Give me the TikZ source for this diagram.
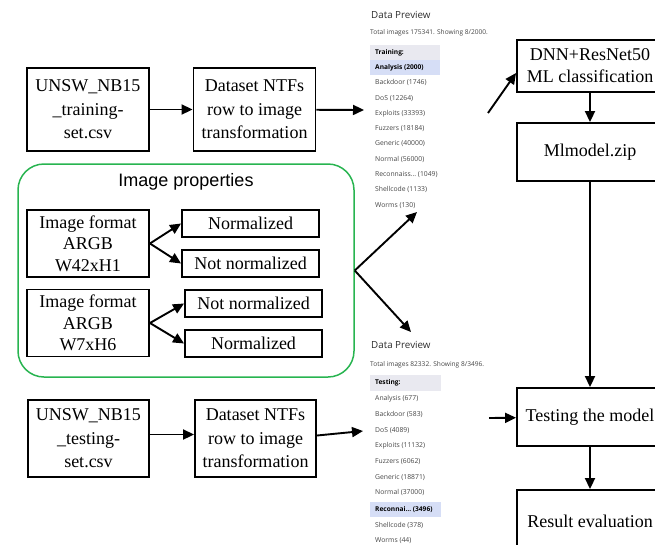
\documentclass[tikz,border=0pt]{standalone}
\usepackage{fontspec}
\setmainfont{Liberation Serif}
\newfontfamily\labelfont{Liberation Sans}
\newfontfamily\uifont{Open Sans}
\usetikzlibrary{arrows.meta}
\definecolor{propgreen}{RGB}{40,180,80}
\definecolor{uitext}{RGB}{70,70,70}
\definecolor{uititle}{RGB}{45,45,45}
\definecolor{uihead}{RGB}{233,233,240}
\definecolor{uisel}{RGB}{214,222,246}

\tikzset{
    box/.style={draw, line width=1.9pt, align=center, inner sep=0pt,
        font=\fontsize{18}{23.5}\selectfont},
    fmtbox/.style={box, minimum width=122pt, minimum height=67pt,
        font=\fontsize{18}{21.5}\selectfont},
    normbox/.style={box, minimum width=137pt, minimum height=27pt},
    stagebox/.style={box, minimum width=146pt},
    arr/.style={line width=1.9pt, -{Triangle[length=11pt,width=10pt]}},
    uititle/.style={anchor=west, inner sep=0pt, text=uititle, font=\uifont\fontsize{9.8}{10}\selectfont},
    uiinfo/.style={anchor=west, inner sep=0pt, text=uitext, font=\uifont\fontsize{6.6}{7}\selectfont},
    uiitem/.style={anchor=west, inner sep=0pt, text=uitext, font=\uifont\fontsize{6.8}{7}\selectfont},
    uibold/.style={uiitem, text=black, font=\uifont\bfseries\fontsize{6.6}{7}\selectfont},
}

\begin{document}
\begin{tikzpicture}[x=1pt, y=-1pt]
    \useasboundingbox (0,0) rectangle (655,544);
    \clip (0,0) rectangle (655,544);

    % Training and testing csv files turned into images.
    \node[box, minimum width=122pt, minimum height=83pt] (trcsv) at (88,109.5)
        {UNSW\_NB15\\\_training-\\set.csv};
    \node[box, minimum width=122pt, minimum height=83pt] (trntf) at (254.5,109.5)
        {Dataset NTFs\\row to image\\transformation};
    \node[box, minimum width=121pt, minimum height=77pt] (tecsv) at (88.5,438.5)
        {UNSW\_NB15\\\_testing-\\set.csv};
    \node[box, minimum width=121pt, minimum height=77pt] (tentf) at (255.5,438.5)
        {Dataset NTFs\\row to image\\transformation};
    \coordinate (trtip) at (364,110);
    \coordinate (tetip) at (363,431);
    \draw[arr] (trcsv) -- (trntf);
    \draw[arr] (trntf) -- (trtip);
    \draw[arr] ([yshift=4pt]tecsv.east) -- ([yshift=4pt]tentf.west);
    \draw[arr] ([yshift=3pt]tentf.east) -- (tetip);

    % Image properties.
    \node[draw=propgreen, line width=1.5pt, rounded corners=26pt,
        minimum width=336pt, minimum height=213pt] (props) at (186,270.5) {};
    \node[font=\labelfont\fontsize{18}{20}\selectfont] (proptitle) at (186,182) {Image properties};
    \node[fmtbox] (fmta) at (88,243.5) {Image format\\ARGB\\W42xH1};
    \node[normbox] (norma) at (250.5,223.5) {Normalized};
    \node[normbox] (notna) at (250.5,263.5) {Not normalized};
    \node[fmtbox] (fmtb) at (88,323) {Image format\\ARGB\\W7xH6};
    \node[normbox] (notnb) at (253.5,303.5) {Not normalized};
    \node[normbox] (normb) at (253.5,343.5) {Normalized};
    \draw[arr] (fmta.east) -- (norma.west);
    \draw[arr] (fmta.east) -- (notna.west);
    \draw[arr] (fmtb.east) -- (notnb.west);
    \draw[arr] (fmtb.east) -- (normb.west);
    \coordinate (trpick) at (417,212);
    \coordinate (tepick) at (411,332);
    \draw[arr] (props.east) -- (trpick);
    \draw[arr] (props.east) -- (tepick);

    % Data preview of the training images.
    \fill[uihead] (370,45) rectangle (440,60);
    \fill[uisel] (370,60) rectangle (440,75);
    \node[uititle] (trtitle) at (371,15) {Data Preview};
    \node[uiinfo] (trinfo) at (370,33) {Total images 175341. Showing 8/2000.};
    \node[uibold] (trhead) at (375,52.5) {Training:};
    \node[uibold] (tr0) at (375,67.5) {Analysis (2000)};
    \foreach \lbl [count=\i] in {Backdoor (1746), DoS (12264), Exploits (33393),
        Fuzzers (18184), Generic (40000), Normal (56000), Reconnaiss\dots\ (1049),
        Shellcode (1133), Worms (130)}
        \node[uiitem] (tr\i) at (375,{67.5+15.3*\i}) {\lbl};

    % Data preview of the testing images.
    \fill[uihead] (370,375) rectangle (441,391);
    \fill[uisel] (370,502) rectangle (441,517);
    \node[uititle] (tetitle) at (371,345) {Data Preview};
    \node[uiinfo] (teinfo) at (370,365) {Total images 82332. Showing 8/3496.};
    \node[uibold] (tehead) at (375,383) {Testing:};
    \foreach \lbl [count=\i] in {Analysis (677), Backdoor (583), DoS (4089),
        Exploits (11132), Fuzzers (6062), Generic (18871), Normal (37000)}
        \node[uiitem] (te\i) at (375,{383+15.7*\i}) {\lbl};
    \node[uibold] (te8) at (375,509.5) {Reconnai\dots\ (3496)};
    \node[uiitem] (te9) at (375,525.2) {Shellcode (378)};
    \node[uiitem] (te10) at (375,540.9) {Worms (44)};

    % Model training and evaluation.
    \node[stagebox, minimum height=52pt, font=\fontsize{18}{22}\selectfont] (dnn) at (590,66)
        {DNN+ResNet50\\ML classification};
    \node[stagebox, minimum height=58pt] (mlzip) at (590,152) {Mlmodel.zip};
    \node[stagebox, minimum height=58pt] (testm) at (590,417) {Testing the model};
    \node[stagebox, minimum height=70pt] (reseval) at (590,525) {};
    \node (reslbl) at (590,521) {\fontsize{18}{22}\selectfont Result evaluation};
    \coordinate (dnnin) at (488,113);
    \coordinate (testin) at (489,418);
    \draw[arr] (dnnin) -- ([yshift=-7pt]dnn.west);
    \draw[arr] (dnn) -- (mlzip);
    \draw[arr] (mlzip) -- (testm);
    \draw[arr] (testin) -- (testm);
    \draw[arr] (testm) -- (reseval);
\end{tikzpicture}
\end{document}
